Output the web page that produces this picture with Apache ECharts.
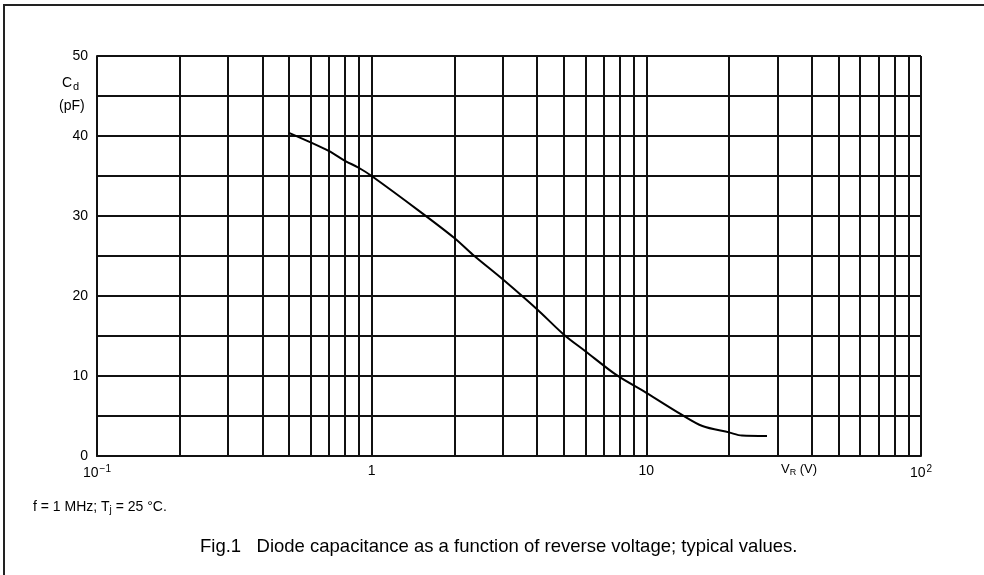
<!DOCTYPE html>
<html>
<head>
<meta charset="utf-8">
<script src="https://cdn.jsdelivr.net/npm/echarts@6/dist/echarts.min.js"></script>
<style>html,body{margin:0;padding:0;background:#fff;}#c{width:984px;height:575px;}</style>
</head>
<body>
<div id="c"></div>
<script>
// Reverse voltage V_R (V)
var voltage = [0.5, 0.6, 0.7, 0.8, 0.9, 1, 1.5, 2, 2.33, 3, 4, 5, 6, 7.8, 10, 13.4, 16, 20, 22.3, 27.5];
// Diode capacitance C_d (pF)
var capacitance = [40.4, 39.2, 38.1, 36.9, 36.0, 35.0, 30.55, 27.25, 25.2, 22.1, 18.35, 15.2, 13.1, 10.1, 7.9, 5.2, 3.75, 2.95, 2.55, 2.5];
// Intermediate log grid lines
var minorGridX = [0.2,0.3,0.4,0.5,0.6,0.7,0.8,0.9, 2,3,4,5,6,7,8,9, 20,30,40,50,60,70,80,90];
// Tick labels
var xTickLabels = {'0.1': '{b|10}{s|−1}', '1': '{b|1}', '10': '{b|10}', '100': '{b|10}{s|2}'};
var yTickLabels = [0, 10, 20, 30, 40, 50];

var chart = echarts.init(document.getElementById('c'), null, {renderer: 'canvas'});
var font = 'Liberation Sans, Arial, sans-serif';
var lineCol = '#111';
var lw = 2;

var option = {
  backgroundColor: '#fff',
  animation: false,
  grid: {left: 97, right: 63, top: 56, bottom: 119, containLabel: false},
  xAxis: {
    type: 'log', logBase: 10, min: 0.1, max: 100,
    axisLine: {show: true, lineStyle: {color: lineCol, width: lw}},
    axisTick: {show: false},
    splitLine: {show: true, lineStyle: {color: lineCol, width: lw}},
    axisLabel: {
      margin: 8,
      formatter: function (v) {
        var k = String(Math.round(v * 10) / 10);
        return xTickLabels[k] || '';
      },
      rich: {
        b: {fontFamily: font, fontSize: 14, color: '#000'},
        s: {fontFamily: font, fontSize: 10, color: '#000', verticalAlign: 'top', padding: [0, 0, 8, 1]}
      }
    }
  },
  yAxis: {
    type: 'value', min: 0, max: 50, interval: 5,
    axisLine: {show: true, lineStyle: {color: lineCol, width: lw}},
    axisTick: {show: false},
    splitLine: {show: true, lineStyle: {color: lineCol, width: lw}},
    axisLabel: {
      margin: 9,
      fontFamily: font, fontSize: 14, color: '#000',
      formatter: function (v) { return yTickLabels.indexOf(v) >= 0 ? String(v) : ''; }
    }
  },
  series: [{
    type: 'line',
    data: voltage.map(function (v, i) { return [v, capacitance[i]]; }),
    smooth: 0.3,
    symbol: 'none',
    lineStyle: {color: '#000', width: 2},
    markLine: {
      silent: true,
      symbol: ['none', 'none'],
      label: {show: false},
      lineStyle: {color: lineCol, width: lw, type: 'solid'},
      data: minorGridX.map(function (x) { return {xAxis: x}; })
    },
    z: 5
  }],
  graphic: [
    {type: 'polyline', shape: {points: [[4, 575], [4, 5], [984, 5]]}, style: {stroke: '#222', lineWidth: 2, fill: null}},
    {type: 'text', left: 62, top: 76, style: {text: '{c|C}{d|d}', rich: {c: {fontFamily: font, fontSize: 14, fill: '#000'}, d: {fontFamily: font, fontSize: 11, fill: '#000', padding: [7, 0, 0, 1]}}}},
    {type: 'text', left: 59, top: 99, style: {text: '(pF)', font: '14px ' + font, fill: '#000'}},
    {type: 'text', left: 781, top: 463, style: {text: '{v|V}{r|R}{v| (V)}', rich: {v: {fontFamily: font, fontSize: 13, fill: '#000'}, r: {fontFamily: font, fontSize: 9, fill: '#000', padding: [6, 0, 0, 0]}}}},
    {type: 'text', left: 33, top: 500, style: {text: '{t|f = 1 MHz; T}{j|j}{t| = 25 °C.}', rich: {t: {fontFamily: font, fontSize: 14, fill: '#000'}, j: {fontFamily: font, fontSize: 10, fill: '#000', padding: [7, 0, 0, 0]}}}},
    {type: 'text', left: 200, top: 537, style: {text: 'Fig.1   Diode capacitance as a function of reverse voltage; typical values.', font: '18.5px ' + font, fill: '#000'}}
  ]
};
chart.setOption(option);
</script>
</body>
</html>
